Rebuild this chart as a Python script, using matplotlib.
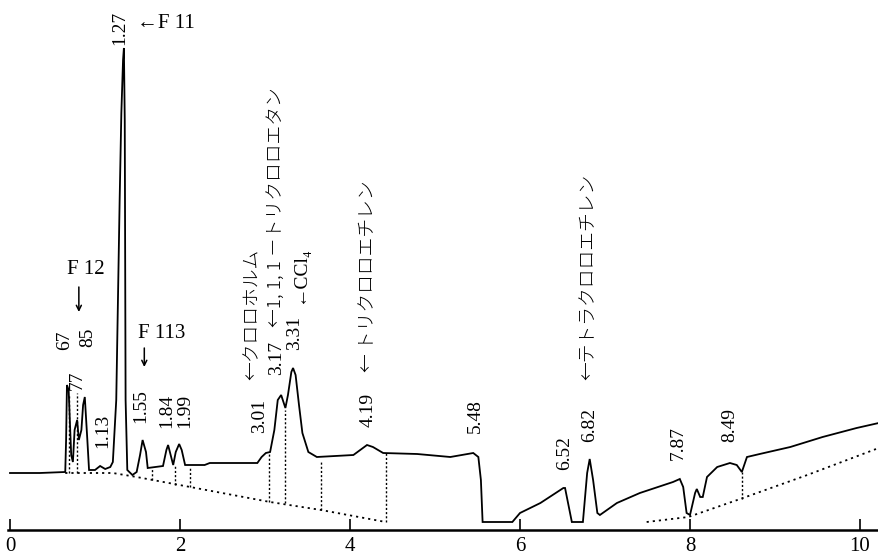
import matplotlib
matplotlib.use("Agg")
import matplotlib.pyplot as plt

# ---- chromatogram trace (retention time [min], detector signal [a.u.]) ----
time_min = [0.00, 0.35, 0.65, 0.66, 0.67, 0.69, 0.72, 0.74, 0.76, 0.79, 0.81, 0.84,
            0.86, 0.88, 0.91, 0.93, 1.00, 1.06, 1.12, 1.18, 1.21, 1.25, 1.27, 1.29,
            1.31, 1.33, 1.34, 1.35, 1.36, 1.38, 1.44, 1.49, 1.53, 1.56, 1.60, 1.62,
            1.71, 1.80, 1.84, 1.86, 1.89, 1.92, 1.95, 1.99, 2.02, 2.06, 2.29, 2.35,
            2.91, 2.96, 3.01, 3.06, 3.11, 3.15, 3.19, 3.24, 3.27, 3.31, 3.33, 3.36,
            3.40, 3.44, 3.51, 3.61, 4.04, 4.12, 4.20, 4.27, 4.39, 4.79, 5.18, 5.45,
            5.51, 5.54, 5.56, 5.91, 6.00, 6.24, 6.51, 6.53, 6.61, 6.74, 6.79, 6.82,
            6.86, 6.91, 6.94, 7.14, 7.41, 7.80, 7.88, 7.92, 7.96, 8.00, 8.06, 8.08,
            8.12, 8.15, 8.20, 8.32, 8.47, 8.55, 8.61, 8.67, 8.82, 9.18, 9.56, 9.96,
            10.22]
signal = [57, 57, 58, 90, 145, 140, 75, 68, 100, 110, 90, 100,
          125, 133, 90, 60, 60, 64, 61, 63, 68, 130, 230, 330,
          417, 470, 482, 410, 130, 60, 55, 58, 75, 90, 78, 62,
          63, 64, 80, 85, 75, 65, 78, 86, 80, 65, 65, 67,
          67, 73, 77, 78, 100, 130, 135, 122, 135, 158, 162, 155,
          125, 97, 78, 73, 75, 80, 85, 83, 77, 76, 73, 77,
          73, 50, 8, 8, 17, 27, 42, 42, 8, 8, 57, 71,
          50, 17, 15, 27, 37, 48, 51, 43, 17, 15, 37, 41,
          33, 33, 53, 63, 67, 65, 58, 73, 76, 83, 93, 102,
          107]

# ---- dotted integration baselines ----
base1_t = [0.65, 1.21, 1.49, 2.12, 3.06, 3.66, 4.42]
base1_s = [57, 57, 53, 43, 28, 20, 8]
base2_t = [7.49, 7.98, 8.59, 9.38, 10.22]
base2_s = [8, 13, 31, 55, 82]

# ---- dotted drop lines: time, bottom, top ----
drop_t = [0.70, 0.79, 1.67, 1.94, 2.12, 3.05, 3.24, 3.66, 4.42, 8.61]
drop_lo = [57, 57, 50, 45, 43, 28, 27, 20, 8, 31]
drop_hi = [135, 137, 62, 65, 63, 77, 120, 70, 77, 58]

# ---- peak retention-time labels ----
rt_labels = ["67", "77", "85", "1.13", "1.27", "1.55", "1.84", "1.99", "3.01",
             "3.17", "3.31", "4.19", "5.48", "6.52", "6.82", "7.87", "8.49"]
rt_x = [0.64, 0.79, 0.91, 1.09, 1.29, 1.54, 1.84, 2.05, 2.94,
        3.14, 3.35, 4.21, 5.48, 6.53, 6.82, 7.86, 8.47]
rt_y = [180, 140, 183, 82, 485, 107, 102, 102, 97,
        155, 180, 103, 97, 60, 88, 70, 88]

# ---- compound names (rotated) ----
cmp_labels = ["←クロロホルム", "←1, 1, 1 －トリクロロエタン", "← トリクロロエチレン",
              "←テトラクロロエチレン"]
cmp_x = [2.86, 3.13, 4.21, 6.80]
cmp_y = [150, 203, 158, 150]

xticks = [0, 2, 4, 6, 8, 10]

SERIF = ["Liberation Serif", "DejaVu Serif"]
JP = ["Noto Sans CJK JP", "DejaVu Sans"]

fig = plt.figure(figsize=(8.79, 5.6), dpi=100)
ax = fig.add_axes([8 / 879, 30 / 560, 871 / 879, 530 / 560])
ax.set_xlim(-0.0235, 10.2235)
ax.set_ylim(0, 530)

ax.plot(time_min, signal, color="black", lw=1.3, solid_joinstyle="miter")
ax.plot(base1_t, base1_s, color="black", lw=1.3, ls=(0, (1.2, 2.2)))
ax.plot(base2_t, base2_s, color="black", lw=1.3, ls=(0, (1.2, 2.2)))
ax.vlines(drop_t, drop_lo, drop_hi, color="black", lw=1.0, ls=(0, (1.5, 1.5)))

for s, x, y in zip(rt_labels, rt_x, rt_y):
    ax.text(x, y, s, rotation=90, ha="center", va="bottom", fontsize=14,
            family=SERIF)

for s, x, y in zip(cmp_labels, cmp_x, cmp_y):
    ax.text(x, y, s, rotation=90, ha="center", va="bottom", fontsize=13.5,
            family=JP, fontweight="light")

ax.text(3.41, 226, "←CCl₄", rotation=90, ha="center", va="bottom",
        fontsize=14, family=SERIF)
ax.text(1.49, 507, "←F 11", ha="left", va="center", fontsize=15, family=SERIF)
ax.text(0.67, 261, "F 12", ha="left", va="center", fontsize=15, family=SERIF)
ax.text(1.51, 197, "F 113", ha="left", va="center", fontsize=15, family=SERIF)
arrow_style = dict(arrowstyle="->", color="black", lw=1.1,
                   shrinkA=0, shrinkB=0, mutation_scale=9)
ax.annotate("", xy=(0.81, 218), xytext=(0.81, 243), arrowprops=arrow_style)
ax.annotate("", xy=(1.58, 163), xytext=(1.58, 182), arrowprops=arrow_style)

for side in ("left", "right", "top"):
    ax.spines[side].set_visible(False)
ax.spines["bottom"].set_linewidth(1.8)
ax.set_yticks([])
ax.set_xticks(xticks)
ax.set_xticklabels([str(v) for v in xticks], family=SERIF, fontsize=15)
ax.tick_params(axis="x", direction="in", length=8, width=1.2, pad=5)

fig.savefig("out.png", dpi=100)
